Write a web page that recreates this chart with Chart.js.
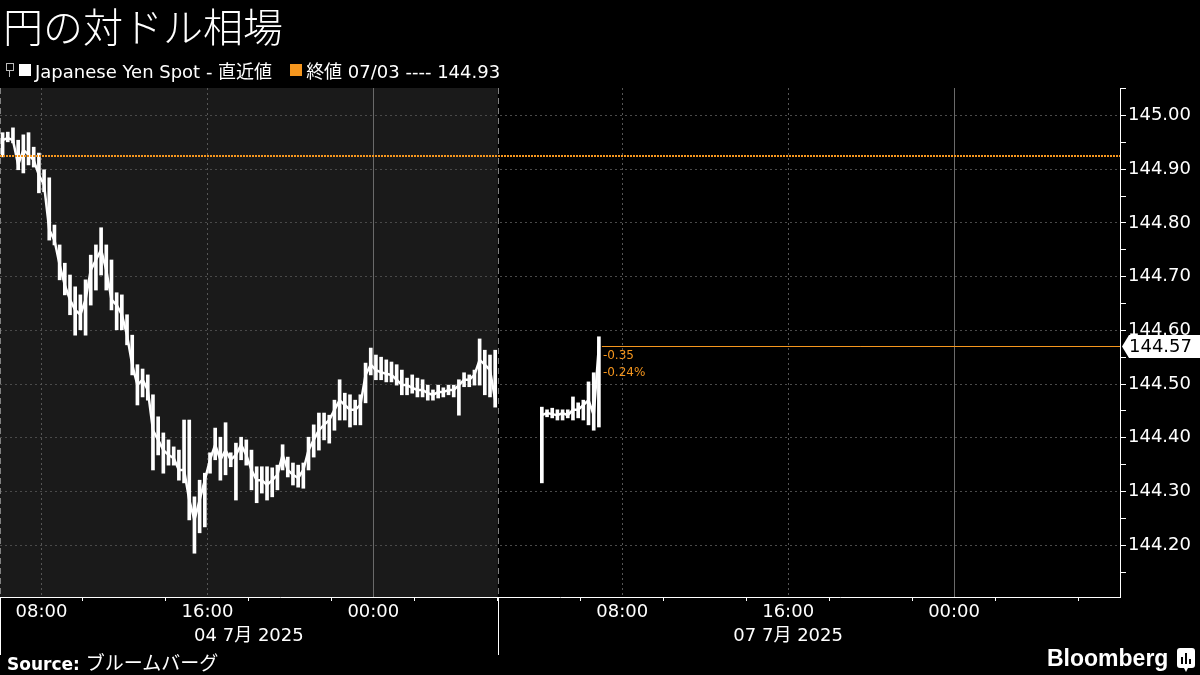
<!DOCTYPE html>
<html lang="ja">
<head>
<meta charset="utf-8">
<title>円の対ドル相場</title>
<script src="https://cdn.jsdelivr.net/npm/chart.js@4.4.1/dist/chart.umd.min.js"></script>
<style>
  html, body { margin: 0; padding: 0; background: #000; }
  body {
    width: 1200px; height: 675px; position: relative; overflow: hidden; color: #fff;
    font-family: "DejaVu Sans", "Noto Sans CJK JP", sans-serif;
  }
  #chart { position: absolute; left: 0; top: 0; }
  .title {
    position: absolute; left: 3px; top: 4px;
    font: 300 40px/42px "Noto Sans CJK JP", sans-serif;
  }
  .legend {
    position: absolute; left: 6px; top: 60px; height: 20px;
    display: flex; align-items: center; font-size: 18px; white-space: nowrap;
  }
  .legend .fold {
    width: 6px; height: 6px; border: 1px solid #bbb; margin-right: 5px; position: relative; top: -3px;
  }
  .legend .fold::after {
    content: ""; position: absolute; left: 2px; top: 7px; width: 1px; height: 6px; background: #bbb;
  }
  .legend .swatch { width: 12px; height: 12px; margin-right: 4px; }
  .legend .gap { width: 18px; }
  .source {
    position: absolute; left: 7px; top: 648px; font-size: 17px; white-space: nowrap;
  }
  .source b { font-weight: bold; }
  .source .jp { font: 19px "Noto Sans CJK JP", sans-serif; margin-left: 6px; }
  .brand {
    position: absolute; left: 1047px; top: 645px;
    font: bold 23px "Liberation Sans", Arial, sans-serif;
  }
  .brand-icon { position: absolute; left: 1177px; top: 648px; }
</style>
</head>
<body>
<canvas id="chart" width="1200" height="675"></canvas>
<div class="title">円の対ドル相場</div>
<div class="legend">
  <span class="fold"></span>
  <span class="swatch" style="background:#fff"></span>
  <span>Japanese Yen Spot - 直近値</span>
  <span class="gap"></span>
  <span class="swatch" style="background:#f5961e"></span>
  <span>終値 07/03 ---- 144.93</span>
</div>
<div class="source"><b>Source:</b><span class="jp">ブルームバーグ</span></div>
<div class="brand">Bloomberg</div>
<svg class="brand-icon" width="18" height="24" viewBox="0 0 18 24">
  <path d="M3 0h12a3 3 0 0 1 3 3v14a3 3 0 0 1-3 3h-4l-2 4-2-4H3a3 3 0 0 1-3-3V3a3 3 0 0 1 3-3z" fill="#fff"/>
  <rect x="4" y="9" width="2" height="7" fill="#000"/>
  <rect x="8" y="5" width="2" height="11" fill="#000"/>
  <rect x="12" y="11" width="2" height="5" fill="#000"/>
</svg>
<script>
"use strict";

// ── Data ─────────────────────────────────────────────────────────────────────
// x is in hours on the compressed trading clock: 0 = 04 Jul 06:00, 24 = 07 Jul 02:00 (JST)
const BAR_HOURS = 0.25;          // 15-minute bars
const jul4Start = 0;
const jul7Start = 26;            // first Monday bar, 07 Jul 04:00

const jul4High = [
  144.968, 144.969, 144.977, 144.954, 144.964, 144.968, 144.941, 144.930, 144.899, 144.884,
  144.796, 144.759, 144.725, 144.703, 144.681, 144.666, 144.694, 144.740, 144.759, 144.791,
  144.759, 144.731, 144.670, 144.666, 144.629, 144.591, 144.536, 144.528, 144.517, 144.480,
  144.439, 144.409, 144.396, 144.383, 144.377, 144.433, 144.433, 144.290, 144.321, 144.334,
  144.372, 144.418, 144.401, 144.428, 144.372, 144.390, 144.401, 144.396, 144.377, 144.346,
  144.346, 144.346, 144.344, 144.349, 144.387, 144.364, 144.353, 144.349, 144.353, 144.401,
  144.424, 144.446, 144.446, 144.442, 144.470, 144.508, 144.483, 144.480, 144.470, 144.480,
  144.539, 144.567, 144.554, 144.550, 144.545, 144.541, 144.536, 144.526, 144.511, 144.517,
  144.511, 144.508, 144.498, 144.489, 144.498, 144.493, 144.498, 144.498, 144.508, 144.521,
  144.517, 144.526, 144.584, 144.563, 144.554, 144.563,
];
const jul4Low = [
  144.923, 144.951, 144.949, 144.899, 144.893, 144.908, 144.904, 144.856, 144.858, 144.768,
  144.759, 144.694, 144.666, 144.629, 144.591, 144.601, 144.591, 144.647, 144.675, 144.703,
  144.675, 144.638, 144.601, 144.601, 144.573, 144.517, 144.461, 144.476, 144.470, 144.340,
  144.368, 144.334, 144.349, 144.349, 144.321, 144.316, 144.247, 144.185, 144.223, 144.234,
  144.334, 144.359, 144.321, 144.331, 144.346, 144.284, 144.359, 144.349, 144.303, 144.279,
  144.297, 144.284, 144.290, 144.303, 144.340, 144.327, 144.312, 144.308, 144.306, 144.340,
  144.364, 144.377, 144.396, 144.390, 144.414, 144.433, 144.433, 144.420, 144.424, 144.424,
  144.465, 144.517, 144.508, 144.508, 144.504, 144.504, 144.498, 144.480, 144.480, 144.483,
  144.476, 144.476, 144.470, 144.470, 144.474, 144.476, 144.480, 144.476, 144.442, 144.495,
  144.495, 144.498, 144.498, 144.480, 144.476, 144.457,
];
const jul4Last = [
  144.954, 144.958, 144.954, 144.908, 144.936, 144.927, 144.917, 144.889, 144.871, 144.787,
  144.768, 144.722, 144.684, 144.657, 144.638, 144.629, 144.657, 144.712, 144.731, 144.750,
  144.712, 144.657, 144.647, 144.629, 144.591, 144.536, 144.498, 144.508, 144.489, 144.414,
  144.396, 144.377, 144.368, 144.362, 144.340, 144.340, 144.284, 144.247, 144.284, 144.321,
  144.359, 144.387, 144.359, 144.377, 144.359, 144.368, 144.387, 144.368, 144.340, 144.321,
  144.321, 144.312, 144.321, 144.331, 144.368, 144.340, 144.331, 144.325, 144.340, 144.377,
  144.396, 144.414, 144.424, 144.433, 144.452, 144.470, 144.461, 144.452, 144.452, 144.461,
  144.517, 144.536, 144.526, 144.522, 144.519, 144.517, 144.508, 144.498, 144.498, 144.493,
  144.489, 144.489, 144.483, 144.480, 144.485, 144.485, 144.489, 144.489, 144.498, 144.508,
  144.508, 144.517, 144.545, 144.536, 144.526, 144.470,
];

const jul7High = [144.457, 144.452, 144.455, 144.452, 144.452, 144.452, 144.476, 144.465, 144.470, 144.504, 144.521, 144.588];
const jul7Low  = [144.316, 144.439, 144.437, 144.433, 144.433, 144.437, 144.433, 144.437, 144.433, 144.424, 144.414, 144.420];
const jul7Last = [144.442, 144.446, 144.444, 144.442, 144.446, 144.442, 144.452, 144.452, 144.461, 144.470, 144.442, 144.571];

const prevClose    = 144.925;    // 終値 07/03
const lastPrice    = 144.57;
const changeLabels = ["-0.35", "-0.24%"];

// ── Axes ─────────────────────────────────────────────────────────────────────
const xMin = 0, xMax = 54;
const yMin = 144.1035, yMax = 145.0512;
const xTickHours  = [2, 6, 10, 14, 18, 22, 26, 30, 34, 38, 42, 46, 50];
const xTickLabels = ["08:00", "", "16:00", "", "00:00", "", "", "08:00", "", "16:00", "", "00:00", ""];
const dateLabels     = ["04 7月 2025", "07 7月 2025"];
const dateLabelHours = [12, 38];
const sessionEdges = [0, 24];
const dayBreaks    = [18, 46];
const hourGrid     = [2, 10, 30, 38];

const ORANGE = "#f5961e";
const FONT = '"DejaVu Sans", "Noto Sans CJK JP", sans-serif';

function rangeBars(start, highs, lows) {
  return highs.map((h, i) => ({ x: start + (i + 0.5) * BAR_HOURS, y: [lows[i], h] }));
}
function lastLine(start, lasts) {
  return lasts.map((v, i) => ({ x: start + (i + 0.5) * BAR_HOURS, y: v }));
}
const isMajor = (v) => Math.round(v * 100) % 10 === 0;

// ── Plugins ──────────────────────────────────────────────────────────────────
const sessionShade = {
  id: "sessionShade",
  beforeDraw(chart) {
    const { ctx, chartArea: a, scales: { x } } = chart;
    const x0 = x.getPixelForValue(sessionEdges[0]);
    const x1 = x.getPixelForValue(sessionEdges[1]);
    ctx.save();
    ctx.fillStyle = "#1a1a1a";
    ctx.fillRect(x0, a.top, x1 - x0, a.bottom - a.top);
    ctx.restore();
  },
};

const timeGrid = {
  id: "timeGrid",
  beforeDatasetsDraw(chart) {
    const { ctx, chartArea: a, scales: { x } } = chart;
    const vline = (h, top, bottom) => {
      const px = Math.round(x.getPixelForValue(h)) + 0.5;
      ctx.beginPath();
      ctx.moveTo(px, top);
      ctx.lineTo(px, bottom);
      ctx.stroke();
    };
    ctx.save();
    ctx.lineWidth = 1;
    ctx.strokeStyle = "#555";
    ctx.setLineDash([2, 3]);
    hourGrid.forEach(h => vline(h, a.top, a.bottom));
    ctx.setLineDash([]);
    ctx.strokeStyle = "#6a6a6a";
    dayBreaks.forEach(h => vline(h, a.top, a.bottom));
    ctx.setLineDash([6, 4]);
    ctx.strokeStyle = "#808080";
    sessionEdges.forEach(h => vline(h, a.top, a.bottom));
    ctx.setLineDash([]);
    ctx.strokeStyle = "#fff";
    sessionEdges.forEach(h => vline(h, a.bottom, a.bottom + 58));
    ctx.restore();
  },
};

const markers = {
  id: "markers",
  afterDatasetsDraw(chart) {
    const { ctx, chartArea: a, scales: { x, y } } = chart;
    ctx.save();

    // previous close, dotted
    const yc = Math.round(y.getPixelForValue(prevClose));
    ctx.strokeStyle = ORANGE;
    ctx.lineWidth = 2;
    ctx.setLineDash([2, 1]);
    ctx.beginPath();
    ctx.moveTo(a.left, yc);
    ctx.lineTo(a.right, yc);
    ctx.stroke();

    // last price, solid
    const lastX = x.getPixelForValue(jul7Start + (jul7Last.length - 0.5) * BAR_HOURS) + 3;
    const yl = Math.round(y.getPixelForValue(lastPrice)) + 0.5;
    ctx.setLineDash([]);
    ctx.lineWidth = 1;
    ctx.beginPath();
    ctx.moveTo(lastX, yl);
    ctx.lineTo(a.right, yl);
    ctx.stroke();

    ctx.fillStyle = ORANGE;
    ctx.font = "12px " + FONT;
    ctx.textBaseline = "middle";
    ctx.textAlign = "left";
    ctx.fillText(changeLabels[0], lastX + 1, yl + 9);
    ctx.fillText(changeLabels[1], lastX + 1, yl + 26);

    // date row under the time ticks
    ctx.fillStyle = "#fff";
    ctx.font = "18px " + FONT;
    ctx.textAlign = "center";
    dateLabels.forEach((t, i) => ctx.fillText(t, x.getPixelForValue(dateLabelHours[i]), a.bottom + 39));

    // last price tag on the axis
    const h = 11.5;
    ctx.beginPath();
    ctx.moveTo(a.right + 2, yl);
    ctx.lineTo(a.right + 9, yl - h);
    ctx.lineTo(chart.width, yl - h);
    ctx.lineTo(chart.width, yl + h);
    ctx.lineTo(a.right + 9, yl + h);
    ctx.closePath();
    ctx.fill();
    ctx.fillStyle = "#000";
    ctx.textAlign = "left";
    ctx.fillText(lastPrice.toFixed(2), a.right + 9, yl + 1);
    ctx.restore();
  },
};

// ── Chart ────────────────────────────────────────────────────────────────────
const barStyle = { type: "bar", backgroundColor: "#fff", borderWidth: 0, barThickness: 3, grouped: false };
const lineStyle = { type: "line", borderColor: "#fff", borderWidth: 2.5, pointRadius: 0, tension: 0 };

new Chart(document.getElementById("chart"), {
  type: "bar",
  data: {
    datasets: [
      { ...barStyle, data: rangeBars(jul4Start, jul4High, jul4Low) },
      { ...barStyle, data: rangeBars(jul7Start, jul7High, jul7Low) },
      { ...lineStyle, data: lastLine(jul4Start, jul4Last) },
      { ...lineStyle, data: lastLine(jul7Start, jul7Last) },
    ],
  },
  options: {
    responsive: false,
    devicePixelRatio: 1,
    animation: false,
    layout: { padding: { top: 88, left: 0, right: 0, bottom: 0 } },
    plugins: { legend: { display: false }, tooltip: { enabled: false } },
    scales: {
      x: {
        type: "linear",
        min: xMin,
        max: xMax,
        offset: false,
        afterBuildTicks: (scale) => { scale.ticks = xTickHours.map(v => ({ value: v })); },
        afterFit: (scale) => { scale.height = 78; },
        ticks: {
          autoSkip: false,
          maxRotation: 0,
          padding: 1,
          color: "#fff",
          font: { family: FONT, size: 18 },
          callback: (v) => xTickLabels[xTickHours.indexOf(v)] ?? "",
        },
        grid: { drawOnChartArea: false, drawTicks: true, tickLength: 4, tickColor: "#fff", color: "#fff" },
        border: { color: "#fff", width: 1 },
      },
      y: {
        position: "right",
        min: yMin,
        max: yMax,
        afterBuildTicks: (scale) => {
          const ticks = [];
          for (let c = 14415; c <= 14505; c += 5) ticks.push({ value: c / 100 });
          scale.ticks = ticks;
        },
        afterFit: (scale) => { scale.width = 80; },
        ticks: {
          padding: 2,
          color: "#fff",
          font: { family: FONT, size: 18 },
          callback: (v) => (isMajor(v) ? v.toFixed(2) : ""),
        },
        grid: {
          color: (ctx) => (ctx.tick && isMajor(ctx.tick.value) ? "#4a4a4a" : "transparent"),
          tickColor: "#fff",
          tickLength: 6,
        },
        border: { color: "#fff", width: 1, dash: [2, 3] },
      },
    },
  },
  plugins: [sessionShade, timeGrid, markers],
});
</script>
</body>
</html>
